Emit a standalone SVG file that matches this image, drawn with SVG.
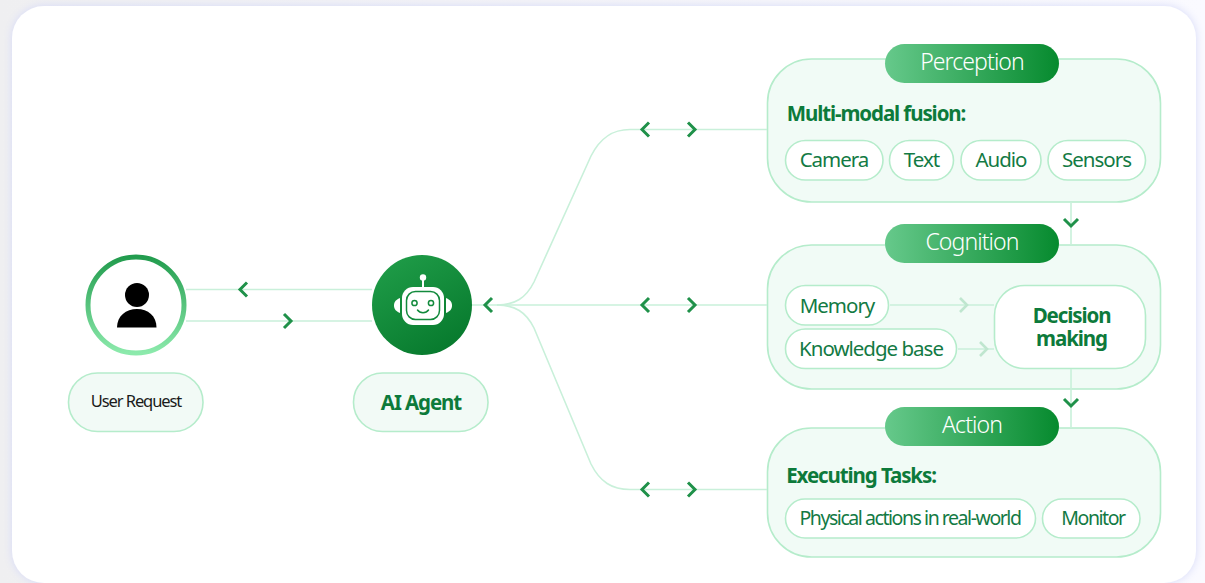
<svg xmlns="http://www.w3.org/2000/svg" width="1205" height="583" viewBox="0 0 1205 583">
<style>
text{font-family:"Noto Sans","Open Sans","Liberation Sans",sans-serif;text-anchor:middle}
.panel{fill:#f1fbf6;stroke:#b5eccb;stroke-width:1.6}
.chip{fill:#fff;stroke:#b5eccb;stroke-width:1.6}
.label{fill:#f2faf6;stroke:#b5eccb;stroke-width:1.6}
.head{fill:url(#pill)}
.ht{fill:#fff;font-size:23px;font-weight:300;letter-spacing:-.9px}
.ct{fill:#137a44;font-size:20.500px;letter-spacing:-1px}
.cs{fill:#137a44;font-size:19.500px;letter-spacing:-1.450px}
.bt{fill:#0d7a3b;font-size:20.500px;font-weight:700;letter-spacing:-1.100px}
.ln{fill:none;stroke:#c9f0da;stroke-width:1.600}
.ch{fill:none;stroke:#1f9149;stroke-width:3}
.chl{fill:none;stroke:#bfe6cf;stroke-width:2.600}
</style>
<defs>
<linearGradient id="pill" x1="0" y1="0" x2="1" y2="0"><stop offset="0" stop-color="#66c98b"/><stop offset="1" stop-color="#068a2e"/></linearGradient>
<linearGradient id="ring" x1="0" y1="0" x2="0" y2="1"><stop offset="0" stop-color="#229c4e"/><stop offset="1" stop-color="#8ceaac"/></linearGradient>
<linearGradient id="agent" x1="0.2" y1="0" x2="0.8" y2="1"><stop offset="0" stop-color="#1f9c48"/><stop offset="1" stop-color="#06782c"/></linearGradient>
<linearGradient id="bg" x1="0" y1="0" x2="1" y2="0"><stop offset="0" stop-color="#efeff1"/><stop offset="1" stop-color="#fafaff"/></linearGradient>
<filter id="shadow" x="-5%" y="-5%" width="110%" height="110%"><feDropShadow dx="0" dy="0" stdDeviation="4" flood-color="#d5d9f8"/></filter>
<path id="cl" d="M4-7-3 0 4 7"/>
<path id="cr" d="M-4-7 3 0-4 7"/>
<path id="cd" d="M-7-4 0 3 7-4"/>
</defs>
<rect width="1205" height="583" fill="url(#bg)"/>
<rect x="12" y="6" width="1184" height="577" rx="32" fill="#fff" filter="url(#shadow)"/>

<g id="user">
<circle cx="136" cy="305" r="48" fill="#fff" stroke="url(#ring)" stroke-width="5"/>
<circle cx="137" cy="295" r="12" fill="#000"/>
<path d="M117 327.500C117 316 126 309 137 309S156.500 316 156.500 327.500Z" fill="#000"/>
</g>
<g id="user-label">
<rect class="label" x="68.500" y="373" width="134.500" height="58.500" rx="29"/>
<text x="136" y="407" font-size="16.500" letter-spacing="-1.100" fill="#1a1a1a">User Request</text>
</g>

<g id="agent-node">
<circle cx="422" cy="305" r="50" fill="url(#agent)"/>
<circle cx="423" cy="277.500" r="3.200" fill="#fff"/>
<path d="M423 279V288" stroke="#fff" stroke-width="2"/>
<path d="M400 298C395 300 394 303 394 305.500S395 311 400 313Z" fill="#fff"/>
<path d="M446 298C451 300 452 303 452 305.500S451 311 446 313Z" fill="#fff"/>
<rect x="402" y="287" width="42" height="38" rx="11" fill="#fff"/>
<rect x="406.500" y="291.500" width="33" height="28" rx="9" fill="none" stroke="#128a3c" stroke-width="1.500"/>
<circle cx="414.500" cy="303" r="2.600" fill="none" stroke="#128a3c" stroke-width="1.500"/>
<circle cx="431" cy="303" r="2.600" fill="none" stroke="#128a3c" stroke-width="1.500"/>
<path d="M417.500 310C420 313.500 426 313.500 428.500 310" fill="none" stroke="#128a3c" stroke-width="1.500" stroke-linecap="round"/>
</g>
<g id="agent-label">
<rect class="label" x="353.500" y="373" width="134.500" height="58.500" rx="29"/>
<text x="421" y="410" class="bt">AI Agent</text>
</g>

<g id="perception">
<rect class="panel" x="767.500" y="59" width="393" height="143" rx="44"/>
<rect class="head" x="885" y="44" width="174" height="39" rx="19.500"/>
<text class="ht" x="972" y="70">Perception</text>
<text class="bt" x="876" y="121">Multi-modal fusion:</text>
<rect class="chip" x="785.500" y="140.500" width="97.500" height="39.500" rx="19.750"/>
<text class="ct" x="834" y="167">Camera</text>
<rect class="chip" x="889.500" y="140.500" width="64" height="39.500" rx="19.750"/>
<text class="ct" x="921.500" y="167">Text</text>
<rect class="chip" x="961" y="140.500" width="80" height="39.500" rx="19.750"/>
<text class="ct" x="1001" y="167">Audio</text>
<rect class="chip" x="1048" y="140.500" width="97.500" height="39.500" rx="19.750"/>
<text class="ct" x="1096.500" y="167">Sensors</text>
</g>

<g id="cognition">
<rect class="panel" x="767.500" y="245" width="393" height="144" rx="44"/>
<rect class="head" x="885" y="224" width="174" height="39" rx="19.500"/>
<text class="ht" x="972" y="250">Cognition</text>
<rect class="chip" x="785.500" y="285.500" width="103" height="39.500" rx="19.750"/>
<text class="ct" x="837" y="313">Memory</text>
<rect class="chip" x="785.500" y="329" width="171" height="39.500" rx="19.750"/>
<text class="ct" x="871" y="356">Knowledge base</text>
<rect class="chip" x="994.500" y="285.500" width="151" height="83" rx="30"/>
<text class="bt"><tspan x="1071.500" y="323">Decision</tspan><tspan x="1071.500" y="346">making</tspan></text>
</g>

<g id="action">
<rect class="panel" x="767.500" y="428" width="393" height="129" rx="44"/>
<rect class="head" x="885" y="407" width="174" height="39" rx="19.500"/>
<text class="ht" x="972" y="433">Action</text>
<text class="bt" x="861" y="483">Executing Tasks:</text>
<rect class="chip" x="785.500" y="499" width="250" height="39" rx="19.500"/>
<text class="cs" x="910" y="525">Physical actions in real-world</text>
<rect class="chip" x="1042.500" y="499" width="97.500" height="39" rx="19.500"/>
<text class="cs" x="1093" y="525">Monitor</text>
</g>

<g id="connectors">
<path class="ln" d="M186 289.500H372M186 321H372"/>
<path class="ln" d="M472 305H767"/>
<path class="ln" d="M497 305C515 305 526 298 534 282L591 156C600 138 612 129.500 630 129.500H767"/>
<path class="ln" d="M497 305C515 305 526 312 534 328L591 464C600 482 612 489.500 630 489.500H767"/>
<path class="ln" d="M1071 202V245M1071 369V428"/>
<path class="ln" d="M890 305H994M958 349H994"/>
<use href="#cl" class="ch" x="488" y="305"/>
<use href="#cl" class="ch" x="243" y="289.500"/>
<use href="#cr" class="ch" x="288" y="321"/>
<use href="#cl" class="ch" x="645" y="129.500"/><use href="#cr" class="ch" x="692" y="129.500"/>
<use href="#cl" class="ch" x="645" y="305"/><use href="#cr" class="ch" x="692" y="305"/>
<use href="#cl" class="ch" x="645" y="489.500"/><use href="#cr" class="ch" x="692" y="489.500"/>
<use href="#cd" class="ch" x="1071" y="223"/>
<use href="#cd" class="ch" x="1071" y="403"/>
<use href="#cr" class="chl" x="964" y="305"/>
<use href="#cr" class="chl" x="984" y="349"/>
</g>
</svg>
